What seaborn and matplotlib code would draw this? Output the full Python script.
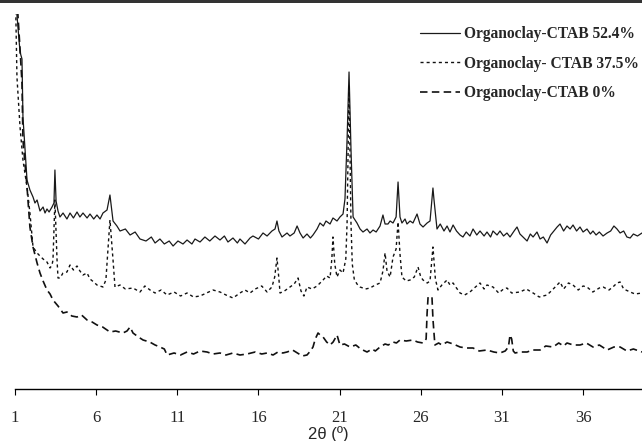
import numpy as np
import pandas as pd
import matplotlib
matplotlib.use("Agg")
import matplotlib.pyplot as plt
import seaborn as sns
from matplotlib.lines import Line2D
from matplotlib.patches import Rectangle

# ---------------- data (2θ in degrees, intensity in arbitrary units) ----------------
labels = ["Organoclay-CTAB 52.4%", "Organoclay- CTAB 37.5%", "Organoclay-CTAB 0%"]
x_ticks = [1, 6, 11, 16, 21, 26, 31, 36]

solid_x = [1.00, 1.12, 1.31, 1.43, 1.49, 1.74, 1.92, 2.11, 2.23, 2.36,
           2.54, 2.73, 2.85, 2.97, 3.10, 3.28, 3.40, 3.46, 3.53, 3.65,
           3.77, 3.96, 4.20, 4.39, 4.60, 4.82, 5.00, 5.19, 5.44, 5.62,
           5.85, 6.05, 6.24, 6.42, 6.67, 6.85, 7.04, 7.28, 7.47, 7.80,
           8.09, 8.40, 8.70, 9.07, 9.40, 9.63, 9.93, 10.20, 10.50, 10.74,
           11.04, 11.35, 11.60, 11.90, 12.09, 12.40, 12.70, 13.00, 13.32, 13.63,
           13.90, 14.12, 14.43, 14.70, 14.86, 15.17, 15.48, 15.66, 16.00, 16.28,
           16.53, 16.83, 17.02, 17.14, 17.26, 17.45, 17.76, 17.94, 18.20, 18.38,
           18.56, 18.75, 18.99, 19.20, 19.36, 19.61, 19.79, 20.00, 20.16, 20.41,
           20.59, 20.84, 21.02, 21.21, 21.33, 21.46, 21.58, 21.70, 21.83, 22.07,
           22.26, 22.44, 22.69, 22.87, 23.06, 23.25, 23.49, 23.67, 23.80, 23.98,
           24.11, 24.29, 24.48, 24.60, 24.72, 24.84, 25.03, 25.15, 25.34, 25.52,
           25.77, 25.95, 26.14, 26.39, 26.57, 26.69, 26.75, 26.81, 27.00, 27.20,
           27.43, 27.62, 27.80, 27.99, 28.20, 28.42, 28.60, 28.80, 29.03, 29.22,
           29.45, 29.65, 29.90, 30.08, 30.30, 30.45, 30.70, 30.88, 31.10, 31.31,
           31.50, 31.75, 31.93, 32.11, 32.30, 32.55, 32.75, 32.92, 33.16, 33.35,
           33.55, 33.78, 34.00, 34.20, 34.40, 34.58, 34.80, 35.01, 35.20, 35.38,
           35.60, 35.81, 36.00, 36.24, 36.45, 36.61, 36.80, 37.00, 37.23, 37.48,
           37.70, 37.90, 38.09, 38.28, 38.50, 38.70, 38.90, 39.10, 39.35, 39.63]
solid_y = [420, 374, 337, 330, 272, 209, 199, 192, 186, 189,
           178, 182, 176, 180, 177, 182, 186, 219, 188, 178,
           172, 176, 170, 176, 171, 177, 172, 176, 171, 175,
           170, 174, 170, 176, 179, 194, 168, 163, 158, 160,
           154, 157, 150, 148, 152, 146, 150, 145, 148, 143,
           148, 145, 149, 145, 150, 147, 152, 148, 153, 149,
           153, 147, 151, 146, 150, 145, 151, 153, 150, 156,
           153, 158, 160, 168, 158, 152, 156, 153, 156, 163,
           156, 151, 155, 151, 154, 160, 166, 163, 168, 165,
           171, 168, 172, 175, 190, 250, 317, 240, 172, 166,
           160, 157, 160, 156, 159, 157, 163, 174, 165, 165,
           168, 166, 172, 207, 172, 166, 170, 165, 168, 166,
           175, 165, 162, 166, 168, 190, 201, 190, 160, 165,
           158, 163, 157, 164, 158, 154, 152, 157, 153, 160,
           154, 158, 153, 157, 152, 158, 154, 158, 153, 156,
           152, 158, 162, 155, 152, 148, 155, 152, 157, 150,
           152, 146, 154, 158, 162, 165, 158, 163, 160, 164,
           158, 162, 157, 160, 155, 158, 154, 157, 153, 156,
           158, 163, 160, 156, 158, 152, 151, 155, 153, 156]

dotted_x = [1.00, 1.12, 1.31, 1.49, 1.74, 1.92, 2.11, 2.36, 2.54, 2.73,
            2.97, 3.16, 3.28, 3.34, 3.46, 3.59, 3.65, 3.77, 3.96, 4.20,
            4.39, 4.60, 4.82, 5.00, 5.19, 5.44, 5.62, 5.85, 6.05, 6.24,
            6.42, 6.60, 6.85, 7.04, 7.16, 7.47, 7.80, 8.27, 8.70, 9.00,
            9.32, 9.63, 10.00, 10.37, 10.80, 11.20, 11.60, 12.00, 12.40, 12.80,
            13.20, 13.63, 14.00, 14.43, 14.86, 15.17, 15.48, 15.80, 16.20, 16.53,
            16.83, 17.00, 17.14, 17.26, 17.33, 17.60, 17.94, 18.20, 18.44, 18.62,
            18.80, 18.99, 19.30, 19.61, 19.98, 20.20, 20.41, 20.52, 20.59, 20.70,
            20.84, 21.02, 21.21, 21.38, 21.46, 21.58, 21.70, 21.78, 21.90, 22.07,
            22.26, 22.60, 22.87, 23.20, 23.49, 23.67, 23.80, 23.92, 24.11, 24.23,
            24.29, 24.48, 24.60, 24.72, 24.84, 25.10, 25.34, 25.60, 25.83, 26.00,
            26.14, 26.40, 26.57, 26.75, 26.90, 27.06, 27.30, 27.62, 27.80, 27.99,
            28.20, 28.42, 28.70, 29.03, 29.30, 29.65, 29.90, 30.08, 30.45, 30.80,
            31.10, 31.31, 31.60, 32.11, 32.50, 32.92, 33.30, 33.78, 34.10, 34.40,
            34.58, 34.80, 35.10, 35.38, 35.70, 36.00, 36.24, 36.60, 37.00, 37.23,
            37.60, 37.90, 38.09, 38.28, 38.50, 38.90, 39.20, 39.63]
dotted_y = [420, 312, 262, 229, 202, 176, 142, 136, 133, 130,
            127, 121, 124, 129, 189, 129, 111, 111, 116, 117,
            124, 119, 123, 118, 114, 116, 110, 107, 104, 103,
            102, 109, 169, 129, 102, 104, 100, 101, 97, 103,
            99, 96, 99, 94, 97, 93, 96, 92, 93, 96,
            99, 97, 94, 91, 96, 99, 96, 100, 103, 97,
            102, 112, 131, 110, 96, 98, 102, 105, 111, 98,
            93, 102, 100, 103, 109, 113, 111, 130, 152, 125,
            112, 119, 116, 130, 166, 304, 166, 125, 110, 105,
            102, 100, 101, 104, 106, 118, 136, 118, 112, 125,
            132, 140, 167, 135, 112, 108, 109, 112, 122, 112,
            109, 106, 108, 142, 110, 99, 104, 109, 104, 106,
            101, 96, 94, 97, 101, 106, 100, 104, 102, 96,
            100, 101, 96, 97, 100, 96, 92, 94, 99, 104,
            107, 100, 106, 104, 99, 103, 102, 97, 101, 102,
            99, 103, 106, 107, 100, 97, 95, 96]

dashed_x = [1.00, 1.18, 1.31, 1.43, 1.49, 1.74, 1.92, 2.11, 2.36, 2.54,
            2.73, 2.97, 3.16, 3.34, 3.65, 3.96, 4.20, 4.50, 4.82, 5.10,
            5.44, 5.75, 6.05, 6.40, 6.85, 7.20, 7.65, 7.90, 8.09, 8.27,
            8.60, 8.89, 9.30, 9.63, 9.93, 10.20, 10.37, 10.80, 11.20, 11.60,
            12.00, 12.40, 12.83, 13.20, 13.63, 14.00, 14.43, 14.86, 15.30, 15.80,
            16.20, 16.53, 16.90, 17.20, 17.50, 17.76, 18.10, 18.40, 18.70, 18.99,
            19.20, 19.36, 19.50, 19.67, 19.80, 19.98, 20.20, 20.41, 20.60, 20.84,
            21.02, 21.30, 21.64, 22.00, 22.30, 22.69, 23.00, 23.20, 23.49, 23.80,
            24.00, 24.29, 24.50, 24.72, 25.10, 25.52, 25.80, 26.14, 26.33, 26.39,
            26.45, 26.69, 26.75, 26.87, 27.10, 27.30, 27.62, 28.00, 28.42, 28.80,
            29.22, 29.60, 30.08, 30.50, 30.88, 31.20, 31.40, 31.50, 31.60, 31.70,
            31.81, 32.10, 32.55, 32.90, 33.35, 33.70, 34.15, 34.50, 34.80, 35.01,
            35.40, 35.81, 36.20, 36.61, 37.00, 37.48, 37.90, 38.28, 38.70, 39.10,
            39.63]
dashed_y = [430, 374, 340, 306, 249, 202, 162, 142, 126, 116,
            108, 99, 95, 89, 83, 76, 77, 73, 72, 74,
            69, 67, 64, 62, 57, 58, 56, 58, 62, 56,
            52, 49, 47, 44, 42, 40, 34, 36, 34, 37,
            35, 38, 37, 35, 36, 34, 36, 34, 35, 37,
            35, 36, 34, 37, 36, 37, 39, 36, 33, 34,
            38, 42, 50, 56, 54, 52, 47, 44, 47, 54,
            44, 45, 42, 44, 40, 37, 40, 38, 42, 45,
            44, 47, 46, 49, 48, 49, 47, 46, 50, 76,
            92, 92, 70, 44, 46, 44, 47, 45, 42, 41,
            41, 38, 39, 37, 36, 38, 42, 54, 50, 38,
            36, 37, 37, 39, 39, 43, 42, 46, 43, 46,
            44, 44, 46, 42, 44, 39, 42, 42, 38, 40,
            37]

# ---------------- styling ----------------
sns.set_theme(style="white")
plt.rcParams["font.family"] = ["Liberation Serif", "DejaVu Serif"]

fig = plt.figure(figsize=(6.42, 4.41), dpi=100)
fig.patch.set_facecolor("white")
ax = fig.add_axes([15 / 642, 52 / 441, 627 / 642, 375 / 441])
ax.set_facecolor("white")

series = [
    (solid_x, solid_y, "-", 0.9, "#1a1a1a"),
    (dotted_x, dotted_y, (0, (2.2, 2.2)), 1.0, "#111111"),
    (dashed_x, dashed_y, (0, (4.5, 2.6)), 1.2, "#111111"),
]
handles = []
for (xs, ys, ls, lw, col), lab in zip(series, labels):
    df = pd.DataFrame({"two_theta": xs, "intensity": ys})
    sns.lineplot(data=df, x="two_theta", y="intensity", ax=ax, color=col,
                 lw=lw, estimator=None, sort=False, legend=False)
    ax.lines[-1].set_linestyle(ls)
    handles.append(Line2D([], [], color=col, lw=lw, linestyle=ls))

ax.set_xlim(1, 39.63)
ax.set_ylim(0, 375)
ax.set_yticks([])
ax.set_ylabel("")
ax.set_xticks(x_ticks)
ax.set_xticklabels([str(t) for t in x_ticks], fontsize=12)
ax.tick_params(axis="x", direction="out", length=4, width=0.8, color="black",
               pad=11, bottom=True)
ax.set_xlabel("2θ (º)", family=["Liberation Sans", "DejaVu Sans"], fontsize=12,
              labelpad=0)
for s in ["left", "top", "right"]:
    ax.spines[s].set_visible(False)
ax.spines["bottom"].set_color("black")
ax.spines["bottom"].set_linewidth(1.0)

leg = fig.legend(handles, labels, loc="upper left",
                 bbox_to_anchor=(420 / 642, 1 - 26 / 441),
                 bbox_transform=fig.transFigure, frameon=False,
                 borderpad=0, borderaxespad=0, handlelength=2.55,
                 handletextpad=0.26, labelspacing=0.88,
                 prop={"family": ["Liberation Serif", "DejaVu Serif"],
                       "weight": "bold", "size": 11.2})

# dark strip along the top edge
fig.add_artist(Rectangle((0, 1 - 3 / 441), 1, 3 / 441, transform=fig.transFigure,
                         color="#333333", lw=0))

fig.savefig("out.png", dpi=100)
